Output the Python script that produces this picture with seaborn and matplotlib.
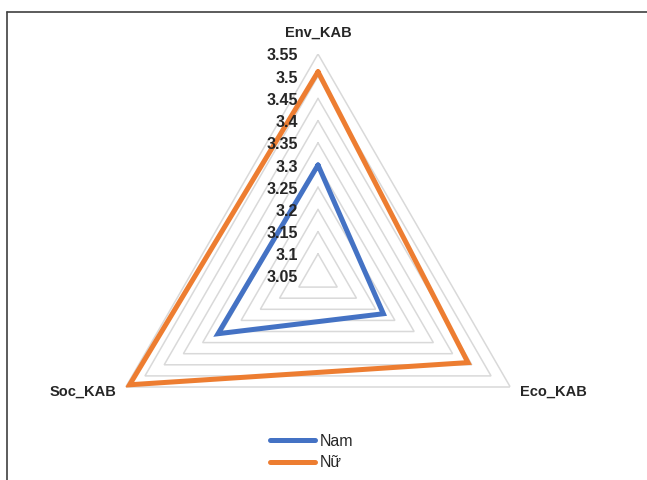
import numpy as np
import pandas as pd
import matplotlib
matplotlib.use("Agg")
import matplotlib.pyplot as plt
import matplotlib.transforms as mtransforms
from matplotlib.lines import Line2D
import seaborn as sns

# Data
categories = ["Env_KAB", "Eco_KAB", "Soc_KAB"]
nam_values = [3.30, 3.22, 3.31]
nu_values = [3.51, 3.44, 3.54]
series_names = ["Nam", "Nữ"]
tick_levels = [3.05, 3.10, 3.15, 3.20, 3.25, 3.30, 3.35, 3.40, 3.45, 3.50, 3.55]
tick_labels = ["3.05", "3.1", "3.15", "3.2", "3.25", "3.3", "3.35", "3.4", "3.45", "3.5", "3.55"]
r_min, r_max = 3.05, 3.55

colors = {"Nam": "#4472C4", "Nữ": "#ED7D31"}

sns.set_theme(style="white")
plt.rcParams["font.family"] = ["Liberation Sans", "DejaVu Sans"]

# Angles: Env at top, Eco bottom-right, Soc bottom-left
angles = np.deg2rad([90, -30, 210])
closed_angles = np.append(angles, angles[0])

rows = []
for name, vals in zip(series_names, [nam_values, nu_values]):
    closed_vals = list(vals) + [vals[0]]
    for a, v in zip(closed_angles, closed_vals):
        rows.append({"theta": a, "value": v, "series": name})
df = pd.DataFrame(rows)

fig = plt.figure(figsize=(6.47, 4.80), dpi=100)
W, H = 647, 480
cx, cy, R = 318, 276, 222
ax = fig.add_axes([(cx - R) / W, (H - cy - R) / H, 2 * R / W, 2 * R / H],
                  projection="polar")
ax.set_ylim(r_min, r_max)
ax.grid(False)
ax.spines["polar"].set_visible(False)
ax.set_xticks([])
ax.set_yticks([])
ax.patch.set_alpha(0)

# Triangular gridlines
for lvl in tick_levels[1:]:
    ax.plot(closed_angles, [lvl] * 4, color="#d9d9d9", lw=1.1, zorder=1,
            solid_joinstyle="miter")

sns.lineplot(data=df, x="theta", y="value", hue="series", sort=False,
             estimator=None, palette=colors, lw=3.6, ax=ax, legend=False,
             zorder=3)
for ln in ax.get_lines()[-2:]:
    ln.set_solid_joinstyle("miter")
ax.set_xlabel("")
ax.set_ylabel("")
ax.set_ylim(r_min, r_max)

# Radial tick labels along the top axis
lab_trans = mtransforms.offset_copy(ax.transData, fig=fig, x=-20, y=-2, units="dots")
for lvl, txt in zip(tick_levels, tick_labels):
    ax.text(np.pi / 2, lvl, txt, transform=lab_trans, ha="right", va="center",
            fontsize=11.5, fontweight="bold", color="#262626")

# Category labels
offsets = [(0, 21), (43, -5), (-43, -5)]
for a, cat, (ox, oy) in zip(angles, categories, offsets):
    tr = mtransforms.offset_copy(ax.transData, fig=fig, x=ox, y=oy, units="dots")
    ax.text(a, r_max, cat, transform=tr, ha="center", va="center",
            fontsize=10.5, fontweight="bold", color="#262626")

# Legend
handles = [Line2D([0], [0], color=colors[n], lw=3.6) for n in series_names]
fig.legend(handles, series_names, loc="center", bbox_to_anchor=(312 / W, 1 - 452 / H),
           frameon=False, fontsize=11.5, handlelength=2.8, handletextpad=0.3,
           labelspacing=0.4, borderpad=0)

# Frame lines at top and left
fig.add_artist(Line2D([7 / W, 1], [1 - 12 / H] * 2, color="#404040", lw=1.2,
                      transform=fig.transFigure))
fig.add_artist(Line2D([7 / W] * 2, [0, 1 - 12 / H], color="#404040", lw=1.2,
                      transform=fig.transFigure))

fig.savefig("out.png", dpi=100)
